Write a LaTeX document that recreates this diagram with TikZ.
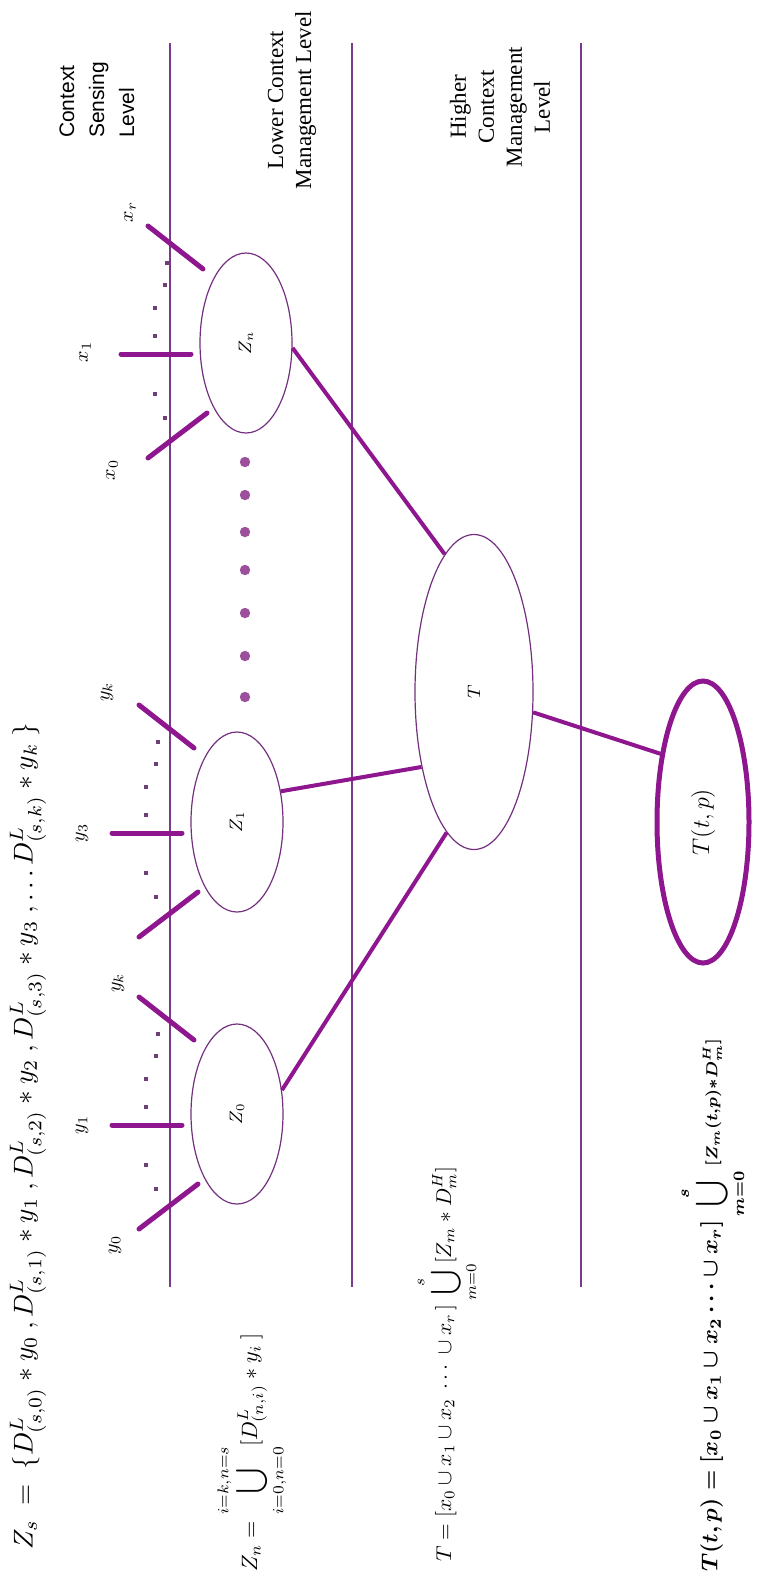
\documentclass[tikz,border=0pt]{standalone}
\usepackage{fontspec}
\setmainfont{Liberation Serif}
\newfontfamily\levelsans{Liberation Sans}
\usepackage{graphicx}
\usepackage{tikz}
\usetikzlibrary{shapes.geometric}
\definecolor{layerpurple}{HTML}{7A3A8C}
\definecolor{edgepurple}{HTML}{73307F}
\definecolor{linkpurple}{HTML}{8E168E}
\definecolor{dotpurple}{HTML}{6E3F78}
\definecolor{ballpurple}{HTML}{9C509C}

\tikzset{
  layer/.style={draw=layerpurple, line width=0.8pt},
  unit/.style={ellipse, draw=edgepurple, line width=0.6pt, inner sep=0pt,
               minimum width=46pt, minimum height=90pt,
               font=\fontsize{9}{10}\selectfont},
  link/.style={draw=linkpurple, line width=2pt},
  sensor/.style={draw=linkpurple, line width=2.5pt, line cap=round},
  tag/.style={rotate=90, inner sep=1pt, font=\fontsize{10}{12}\selectfont},
  levelname/.style={rotate=90, align=center, font=\fontsize{11.5}{14}\selectfont},
  formula/.style={rotate=90, anchor=west, inner sep=0pt, font=\fontsize{10}{12}\selectfont},
}

\begin{document}
\begin{tikzpicture}[x=0.5pt, y=-0.5pt]
  \useasboundingbox (0,0) rectangle (771,1585);

  % level boundaries
  \foreach \lx in {170, 352, 581}
    \draw[layer] (\lx,43) -- (\lx,1287);

  % level names
  \node[levelname, align=left, font=\levelsans\fontsize{10.5}{15}\selectfont] (sensing) at (97,100) {Context\\Sensing\\Level};
  \node[levelname] (lower) at (292,100) {Lower Context\\Management Level};
  \node[levelname] (higher) at (500,107) {Higher\\Context\\Management\\Level};

  % lower context units with their sensors
  \foreach \name/\gx/\h/\lab in {Zn/121/354/n, Z1/112/833/1, Z0/112/1125/0} {
    \begin{scope}[shift={(\gx,\h)}]
      \draw[sensor] (27,-128) -- (82,-85);
      \draw[sensor] (0,0) -- (70,0);
      \draw[sensor] (27,104) -- (86,59);
      \foreach \dx/\dy in {46/-91, 44/-69, 34/-46, 34/-18, 34/40, 44/64}
        \fill[dotpurple] (\dx-1.8,\dy-1.8) rectangle (\dx+1.8,\dy+1.8);
      \node[unit] (\name) at (125,-11) {\rotatebox{90}{$Z_{\lab}$}};
    \end{scope}
  }

  % sensor names
  \node[tag] (xr) at (130,212) {$x_r$};
  \node[tag] (x1) at (85,352) {$x_1$};
  \node[tag] (x0) at (112,470) {$x_0$};
  \node[tag] (yk1) at (107,692) {$y_k$};
  \node[tag] (y3) at (82,833) {$y_3$};
  \node[tag] (yk0) at (118,983) {$y_k$};
  \node[tag] (y1) at (82,1125) {$y_1$};
  \node[tag] (y0) at (115,1245) {$y_0$};

  % more units
  \foreach \by in {462,495,532,570,613,656,697}
    \fill[ballpurple] (245,\by) circle (2.6pt);

  % higher level
  \node[unit, minimum width=59pt, minimum height=157.5pt] (T) at (474,692) {\rotatebox{90}{$T$}};
  \node[unit, draw=linkpurple, line width=2.5pt, minimum width=46pt, minimum height=141pt,
        font=\fontsize{12}{14}\selectfont] (Tp) at (703,822) {\rotatebox{90}{$T(t,p)$}};

  \draw[link] (Zn.-6) -- (T.102);
  \draw[link] (Z1.35) -- (T.235);
  \draw[link] (Z0.28) -- (T.259);
  \draw[link] (T.-19) -- (Tp.122);

  % formulas
  \node[formula] (zs) at (28,1550)
    {\scalebox{1.36}{$Z_s \ = \ \{D^L_{(s,0)} * y_0 \ , D^L_{(s,1)} * y_1 \ , D^L_{(s,2)} * y_2 \ , D^L_{(s,3)} * y_3 \ , \ldots D^L_{(s,k)} * y_k \ \}$}};
  \node[formula] (zn) at (252,1572)
    {\scalebox{1.11}{$Z_n = \displaystyle\bigcup_{i=0,n=0}^{i=k,n=s} [D^L_{(n,i)} * y_i\;]$}};
  \node[formula] (tform) at (447,1562)
    {\scalebox{1.07}{$T = [x_0 \cup x_1 \cup x_2 \ \cdots\ \cup x_r\,] \displaystyle\bigcup_{m=0}^{s} [Z_m * D^H_m]$}};
  \node[formula, font=\fontsize{10}{12}\selectfont\boldmath] (tpform) at (713,1572)
    {\scalebox{1.14}{$T(t,p) = [x_0 \cup x_1 \cup x_2 \cdots \cup x_r] \displaystyle\bigcup_{m=0}^{s} {\scriptstyle [Z_m(t,p) * D^H_m]}$}};
\end{tikzpicture}
\end{document}
